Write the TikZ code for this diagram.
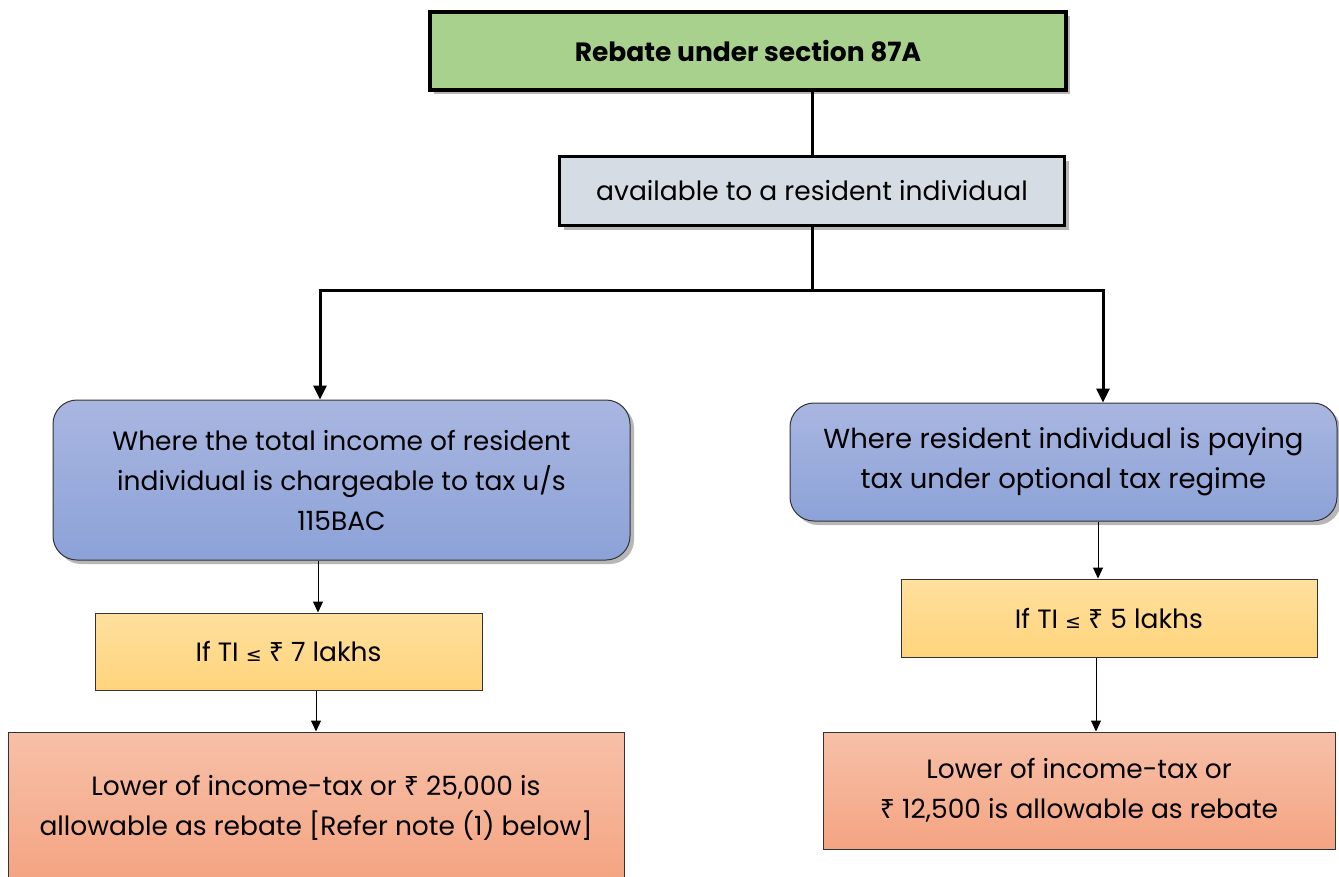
\documentclass[tikz,border=0pt]{standalone}
\usepackage{fontspec}
\setmainfont{Poppins}
\newfontfamily\symfont{Noto Sans}
\newfontfamily\lefont{DejaVu Sans}
\usetikzlibrary{arrows.meta,shadows,calc}
\definecolor{titlegreen}{HTML}{A9D18E}
\definecolor{subgray}{HTML}{D6DCE4}
\definecolor{blueTop}{HTML}{A9B6E0}
\definecolor{blueBot}{HTML}{8CA2D8}
\definecolor{yelTop}{HTML}{FFE09E}
\definecolor{yelBot}{HTML}{FFD47C}
\definecolor{orTop}{HTML}{F7C0A8}
\definecolor{orBot}{HTML}{F4A482}
\newcommand{\lesym}{{\lefont\fontsize{19}{19}\selectfont ≤}}
\newcommand{\rupee}{{\symfont ₹}}
\begin{document}
\begin{tikzpicture}[x=1pt,y=-1pt,
  txt/.style={font=\fontsize{26.5}{40}\selectfont, align=center, text=black},
  shd/.style={drop shadow={shadow xshift=4pt,shadow yshift=-4pt,opacity=0.4,fill=black!70}},
  titlebox/.style={draw=black,line width=4pt,fill=titlegreen,shd,minimum width=636pt,minimum height=78pt},
  subbox/.style={draw=black,line width=3pt,fill=subgray,shd,minimum width=505pt,minimum height=69pt},
  bluebox/.style={draw=black!80,line width=1pt,rounded corners=24pt,top color=blueTop,bottom color=blueBot,shd},
  yelbox/.style={draw=black!80,line width=1pt,top color=yelTop,bottom color=yelBot},
  orbox/.style={draw=black!80,line width=1pt,top color=orTop,bottom color=orBot},
  bigarrow/.style={line width=3pt,-{Triangle[length=14pt,width=13pt]}},
  bigline/.style={line width=3pt},
  smallarrow/.style={line width=1pt,-{Triangle[length=11pt,width=10pt]}}
]
\useasboundingbox (0,0) rectangle (1339,876);

\node[titlebox,txt] (title) at (748,51) {\bfseries\fontsize{26.5}{30}\selectfont Rebate under section 87A};
\node[subbox,txt] (sub) at (812,191) {available to a resident individual};

\node[bluebox,txt,minimum width=577pt,minimum height=160pt] (lb) at (341.5,480)
  {Where the total income of resident\\individual is chargeable to tax u/s\\115BAC};
\node[bluebox,txt,font=\fontsize{27.5}{40}\selectfont,minimum width=547pt,minimum height=118pt] (rb) at (1063.5,462)
  {Where resident individual is paying\\tax under optional tax regime};

\node[yelbox,txt,minimum width=387pt,minimum height=77pt] (ly) at (288.5,651.5)
  {If TI \lesym{} \rupee{} 7 lakhs};
\node[yelbox,txt,minimum width=416pt,minimum height=78pt] (ry) at (1109,618)
  {If TI \lesym{} \rupee{} 5 lakhs};

\node[orbox,minimum width=616pt,minimum height=150pt] (lo) at (316,807) {};
\node[txt] (lot) at (316,808) {Lower of income-tax or \rupee{} 25,000 is\\allowable as rebate [Refer note (1) below]};
\node[orbox,txt,minimum width=512pt,minimum height=117pt] (ro) at (1079,790.5)
  {Lower of income-tax or\\\rupee{} 12,500 is allowable as rebate};

% connectors
\draw[bigline] (sub.north) -- (sub.north |- title.south);
\coordinate (jl) at (320,290);
\coordinate (jr) at (1103,290);
\draw[bigline] (sub.south) -- (sub.south |- jl);
\draw[bigarrow] (sub.south |- jl) -- (jl) -- (jl |- lb.north);
\draw[bigarrow] (sub.south |- jr) -- (jr) -- (jr |- rb.north);

\coordinate (xl1) at (318,0);
\coordinate (xl2) at (316,0);
\coordinate (xr1) at (1098,0);
\coordinate (xr2) at (1096,0);
\draw[smallarrow] (lb.south -| xl1) -- (ly.north -| xl1);
\draw[smallarrow] (ly.south -| xl2) -- (lo.north -| xl2);
\draw[smallarrow] (rb.south -| xr1) -- (ry.north -| xr1);
\draw[smallarrow] (ry.south -| xr2) -- (ro.north -| xr2);
\end{tikzpicture}
\end{document}
